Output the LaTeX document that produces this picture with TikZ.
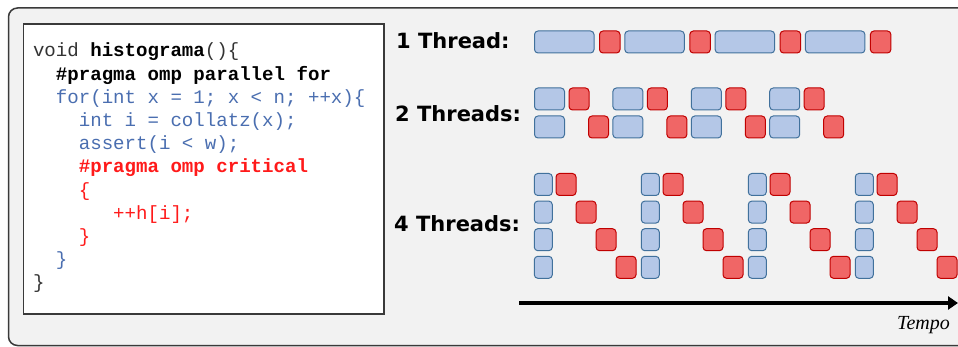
\documentclass[tikz,border=0pt]{standalone}
\usepackage{fontspec}
\usetikzlibrary{arrows.meta}
\newfontfamily\codefont{Liberation Mono}
\newfontfamily\labelfont{DejaVu Sans}
\newfontfamily\timefont{Liberation Serif}
\definecolor{panelbg}{HTML}{F2F2F2}
\definecolor{panelline}{HTML}{3A3A3A}
\definecolor{codeblue}{HTML}{4A6EB0}
\definecolor{codered}{HTML}{FF1A1A}
\definecolor{codedark}{HTML}{333333}
\definecolor{workfill}{HTML}{B4C7E7}
\definecolor{workline}{HTML}{41719C}
\definecolor{critfill}{HTML}{F06666}
\definecolor{critline}{HTML}{C00000}
\tikzset{
  codeline/.style={anchor=base west, inner sep=0pt, outer sep=0pt,
    font=\codefont\fontsize{19.1}{23}\selectfont},
  threadlabel/.style={anchor=base west, inner sep=0pt,
    font=\labelfont\bfseries\fontsize{21}{24}\selectfont},
  block/.style={anchor=north west, inner sep=0pt, outer sep=0pt,
    rounded corners=3.5pt, line width=1pt, minimum height=22pt},
  workblock/.style={block, fill=workfill, draw=workline},
  critblock/.style={block, fill=critfill, draw=critline, minimum width=20pt},
}
\begin{document}
\begin{tikzpicture}[x=1pt,y=-1pt]
  \clip (0,0) rectangle (958,347);
  \fill[white] (0,0) rectangle (958,347);
  % outer panel
  \draw[fill=panelbg, draw=panelline, line width=1.5pt, rounded corners=9pt]
    (8.5,8) rectangle (990,345.5);
  % code listing
  \draw[fill=white, draw=panelline, line width=1.5pt] (23.5,24) rectangle (384,314);
  \def\cw{11.46}
  \def\lh{23.2}
  \node[codeline, text=codedark] (c0) at (33, 57) {void \textbf{\color{black}histograma}()\{};
  \node[codeline, text=black]    (c1) at (33+2*\cw, 57+1*\lh) {\textbf{\#pragma omp parallel for}};
  \node[codeline, text=codeblue] (c2) at (33+2*\cw, 57+2*\lh) {for(int x = 1; x < n; ++x)\{};
  \node[codeline, text=codeblue] (c3) at (33+4*\cw, 57+3*\lh) {int i = collatz(x);};
  \node[codeline, text=codeblue] (c4) at (33+4*\cw, 57+4*\lh) {assert(i < w);};
  \node[codeline, text=codered]  (c5) at (33+4*\cw, 57+5*\lh) {\textbf{\#pragma omp critical}};
  \node[codeline, text=codered]  (c6) at (33+4*\cw, 57+6*\lh) {\{};
  \node[codeline, text=codered]  (c7) at (33+7*\cw, 57+7*\lh) {++h[i];};
  \node[codeline, text=codered]  (c8) at (33+4*\cw, 57+8*\lh) {\}};
  \node[codeline, text=codeblue] (c9) at (33+2*\cw, 57+9*\lh) {\}};
  \node[codeline, text=codedark] (c10) at (33, 57+10*\lh) {\}};
  % row labels
  \node[threadlabel] (l1) at (396, 48.7) {1 Thread:};
  \node[threadlabel] (l2) at (395, 122) {2 Threads:};
  \node[threadlabel] (l4) at (394, 231.7) {4 Threads:};
  % one thread
  \foreach \i in {0,...,3} {
    \node[workblock, minimum width=59.5pt] (oneW\i) at (534.5+90.3*\i, 31) {};
    \node[critblock, minimum width=20.5pt] (oneC\i) at (534.5+90.3*\i+65, 31) {};
  }
  % two threads
  \foreach \i in {0,...,3} {
    \node[workblock, minimum width=30pt] (twoWa\i) at (534.5+78.4*\i, 88) {};
    \node[critblock] (twoCa\i) at (534.5+78.4*\i+34.5, 88) {};
    \node[workblock, minimum width=30pt] (twoWb\i) at (534.5+78.4*\i, 116) {};
    \node[critblock] (twoCb\i) at (534.5+78.4*\i+54, 116) {};
  }
  % four threads
  \foreach \i in {0,...,3} {
    \foreach \r in {0,...,3} {
      \node[workblock, minimum width=18pt] (fourW\i\r) at (534.3+107*\i, 173.5+27.6*\r) {};
      \node[critblock] (fourC\i\r) at (534.3+107*\i+21.7+20*\r, 173.5+27.6*\r) {};
    }
  }
  % time axis
  \coordinate (t0) at (519,303);
  \coordinate (t1) at (958,303);
  \draw[line width=3.7pt, -{Triangle[length=10pt,width=13pt]}] (t0) -- (t1);
  \node[anchor=base east, inner sep=0pt, font=\timefont\itshape\fontsize{20}{24}\selectfont]
    (tempo) at (950, 329) {Tempo};
\end{tikzpicture}
\end{document}
